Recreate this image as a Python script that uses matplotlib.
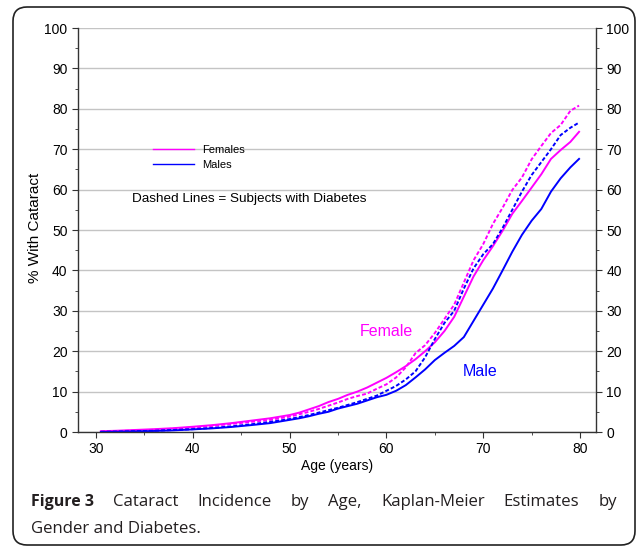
import numpy as np
import matplotlib
matplotlib.use('Agg')
import matplotlib.pyplot as plt
from matplotlib.patches import FancyBboxPatch
from matplotlib.lines import Line2D
from matplotlib.ticker import MultipleLocator

plt.rcParams['font.family'] = ['Liberation Sans', 'DejaVu Sans']

# Kaplan-Meier estimates (% with cataract by age)
ages = [30.5, 32, 34, 36, 38, 40, 42, 44, 46, 48, 50, 51, 52, 53, 54, 55, 56, 57, 58, 59,
        60, 61, 62, 63, 64, 65, 66, 67, 68, 69, 70, 71, 72, 73, 74, 75, 76, 77, 78, 79, 79.9]

femaleNoDiab = [0.2, 0.3, 0.5, 0.7, 0.95, 1.3, 1.7, 2.2, 2.8, 3.4, 4.2, 4.8, 5.6, 6.4, 7.4,
                8.2, 9.2, 10.0, 11.0, 12.2, 13.4, 14.8, 16.3, 18.0, 20.0, 22.2, 25.0, 28.5,
                33.5, 38.5, 42.5, 46.0, 49.8, 54.0, 57.2, 60.5, 63.8, 67.6, 69.8, 71.8, 74.3]

femaleDiab = [0.1, 0.2, 0.35, 0.55, 0.8, 1.1, 1.5, 2.0, 2.5, 3.0, 3.8, 4.4, 5.0, 5.7, 6.5,
              7.3, 8.2, 8.9, 9.5, 10.7, 11.8, 13.5, 16.0, 19.5, 21.5, 24.5, 28.0, 31.5,
              37.0, 42.5, 46.5, 51.5, 55.5, 59.9, 63.0, 67.5, 70.8, 74.0, 76.0, 79.5, 80.8]

maleDiab = [0.05, 0.1, 0.2, 0.3, 0.5, 0.7, 1.0, 1.4, 1.9, 2.5, 3.2, 3.7, 4.2, 4.8, 5.4,
            6.0, 6.7, 7.4, 8.2, 9.0, 10.2, 11.4, 13.0, 15.0, 18.5, 23.0, 27.0, 30.0,
            35.5, 40.5, 44.0, 46.5, 50.5, 55.0, 59.5, 63.6, 66.8, 70.0, 73.5, 75.3, 76.6]

maleNoDiab = [0.0, 0.05, 0.15, 0.25, 0.4, 0.65, 0.9, 1.25, 1.7, 2.2, 3.0, 3.4, 3.9, 4.5, 5.0,
              5.8, 6.4, 7.0, 7.8, 8.6, 9.2, 10.2, 11.6, 13.5, 15.5, 17.8, 19.6, 21.3,
              23.5, 27.5, 31.5, 35.5, 40.0, 44.6, 48.8, 52.3, 55.2, 59.5, 62.8, 65.5, 67.6]

magenta = '#FF00FF'
blue = '#0000FF'

fig = plt.figure(figsize=(6.37, 5.47), dpi=100)
ax = fig.add_axes([78/637, 115/547, 518/637, 404/547])

ax.plot(ages, femaleNoDiab, color=magenta, lw=1.4)
ax.plot(ages, femaleDiab, color=magenta, lw=1.4, dashes=(2.0, 1.1))
ax.plot(ages, maleDiab, color=blue, lw=1.4, dashes=(2.0, 1.1))
ax.plot(ages, maleNoDiab, color=blue, lw=1.4)

ax.set_xlim(28.14, 81.65)
ax.set_ylim(0, 100)
ax.xaxis.set_major_locator(MultipleLocator(10))
ax.xaxis.set_minor_locator(MultipleLocator(5))
ax.yaxis.set_major_locator(MultipleLocator(10))
ax.yaxis.set_minor_locator(MultipleLocator(5))
ax.yaxis.grid(True, color='#c4c4c4', lw=1)
ax.set_axisbelow(True)

ax.spines['top'].set_visible(False)
for s in ['left', 'right', 'bottom']:
    ax.spines[s].set_color('#333333')
    ax.spines[s].set_linewidth(1)
ax.tick_params(which='both', direction='out', right=True, labelright=True,
               colors='#333333', labelcolor='black', labelsize=10)
ax.tick_params(which='major', length=4)
ax.tick_params(which='minor', length=2.5)

ax.set_ylabel('% With Cataract', fontsize=11)
ax.yaxis.set_label_coords((35 - 78) / 518, (432 - 228) / 404)
ax.yaxis.label.set_va('center')
ax.set_xlabel('Age (years)', fontsize=10)
ax.xaxis.set_label_coords(0.5, (432 - 466) / 404)
ax.xaxis.label.set_va('center')

ax.text(60.0, 24.8, 'Female', color=magenta, fontsize=11.5, ha='center', va='center')
ax.text(69.7, 15.0, 'Male', color=blue, fontsize=11.5, ha='center', va='center')

legHandles = [Line2D([], [], color=magenta, lw=1), Line2D([], [], color=blue, lw=1)]
ax.legend(legHandles, ['Females', 'Males'], loc='upper left',
          bbox_to_anchor=((153 - 78) / 518, (432 - 145) / 404), frameon=False,
          fontsize=8, handlelength=3.7, handletextpad=0.7, labelspacing=0.45,
          borderpad=0, borderaxespad=0)
ax.text((132 - 78) / 518, (432 - 199) / 404, 'Dashed Lines = Subjects with Diabetes',
        transform=ax.transAxes, fontsize=9.7, va='center', ha='left')

# rounded frame round the whole figure
frame = FancyBboxPatch((0.13, 0.02), 6.22, 5.38, boxstyle='round,pad=0,rounding_size=0.14',
                       transform=fig.dpi_scale_trans, fill=False, ec='#222222', lw=1.2)
fig.patches.append(frame)

# caption, first line justified
capColor = '#231F20'
capFont = ['Open Sans', 'DejaVu Sans']
words = [('Figure 3', 'bold'), ('Cataract', 'normal'), ('Incidence', 'normal'),
         ('by', 'normal'), ('Age,', 'normal'), ('Kaplan-Meier', 'normal'),
         ('Estimates', 'normal'), ('by', 'normal')]
x0, x1 = 31, 617
yLine1 = 1 - 502 / 547
renderer = fig.canvas.get_renderer()
texts = []
for w, wt in words:
    size = 11.5 if wt == 'bold' else 12.1
    t = fig.text(0, yLine1, w, fontsize=size, fontweight=wt, color=capColor,
                 fontfamily=capFont, va='center', ha='left')
    texts.append(t)
widths = [t.get_window_extent(renderer).width for t in texts]
gap = (x1 - x0 - sum(widths)) / (len(words) - 1)
xPos = x0
for t, wd in zip(texts, widths):
    t.set_x(xPos / 637)
    xPos += wd + gap
fig.text(31 / 637, 1 - 529 / 547, 'Gender and Diabetes.', fontsize=12.1, color=capColor,
         fontfamily=capFont, va='center', ha='left')

fig.savefig('out.png', dpi=100)
